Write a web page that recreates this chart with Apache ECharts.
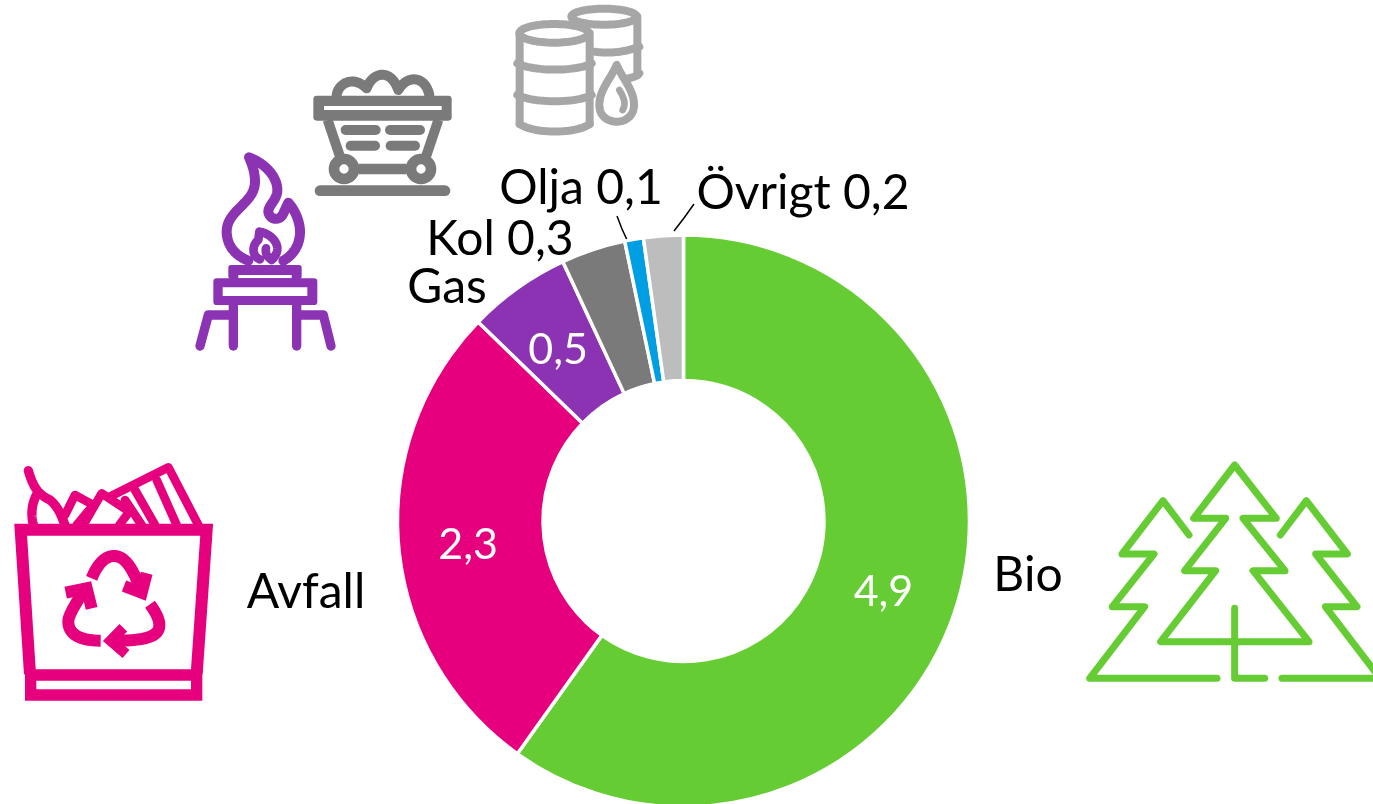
<!DOCTYPE html>
<html>
<head>
<meta charset="utf-8">
<style>html,body{margin:0;padding:0;background:#fff;overflow:hidden}#c{width:1373px;height:804px}</style>
<script src="https://cdn.jsdelivr.net/npm/echarts@6/dist/echarts.min.js"></script>
</head>
<body>
<div id="c"></div>
<script>
const names = ['Bio','Avfall','Gas','Kol','Olja','Övrigt'];
const values = [4.94,2.26,0.48,0.30,0.087,0.185];
const colors = ['#66CC33','#E6007E','#8B33B3','#7A7A7A','#009FE3','#BDBDBD'];
const valueInside = [true,true,true,false,false,false];
const hasLeader = [false,false,false,false,true,true];
const FONT = 'Lato';
const CENTER = [683.5,521];
const outerAnchors = [[1028,576],[306,593],[447,288],[500,240],[581,189],[803,194]];
const leaderPoints = [null,null,null,null,[[617,216],[622,229],[628,242]],[[694,204],[684,218],[674,231]]];
const insideOffset = [[-6,5],[0,5],[0,5],[0,0],[0,0],[0,0]];
const fmt = v => v.toFixed(1).replace('.',',');

function flatten(d){
  const toks = d.match(/[MLCZ]|-?[\d.]+/g); let i=0, pts=[], closed=false, cmd='';
  while(i<toks.length){
    if(/[MLCZ]/.test(toks[i])) cmd=toks[i++];
    if(cmd==='Z'){closed=true;continue;}
    if(cmd==='C'){
      const p0=pts[pts.length-1], c=[0,1,2,3,4,5].map(k=>+toks[i+k]); i+=6;
      for(let s=1;s<=24;s++){const t=s/24,u=1-t;
        pts.push([u*u*u*p0[0]+3*u*u*t*c[0]+3*u*t*t*c[2]+t*t*t*c[4],
                  u*u*u*p0[1]+3*u*u*t*c[1]+3*u*t*t*c[3]+t*t*t*c[5]]);}
    } else { pts.push([+toks[i],+toks[i+1]]); i+=2; }
  }
  return {pts,closed};
}
function icon(color, ox, oy, items){
  return { type:'group', x:ox, y:oy, scaleX:1/3, scaleY:1/3, silent:true,
    children: items.map(it=>{
      if(it.rect) return {type:'rect',shape:{x:it.rect[0],y:it.rect[1],width:it.rect[2],height:it.rect[3],r:it.r||0},style:{fill:it.fill||color}};
      if(it.ring) return {type:'circle',shape:{cx:it.ring[0],cy:it.ring[1],r:it.ring[2]},style:{fill:'none',stroke:color,lineWidth:it.w}};
      if(it.ell){ const pts=[]; for(let k=0;k<72;k++){const a=k/72*2*Math.PI;pts.push([it.ell[0]+it.ell[2]*Math.cos(a),it.ell[1]+it.ell[3]*Math.sin(a)]);}
        return {type:'polygon',shape:{points:pts},style:{fill:'none',stroke:color,lineWidth:it.w,lineJoin:'round'}}; }
      const f=flatten(it.d);
      return {type:f.closed?'polygon':'polyline',shape:{points:f.pts},style:{fill:'none',stroke:color,lineWidth:it.w,lineCap:it.cap||'round',lineJoin:it.join||'round'}};
    })};
}
const treeIcon = icon('#66CC33',1073,450,[
  {w:21,d:'M485,45 L362,205 L458,205 L335,362 L428,362 L263,575 L708,575 L540,362 L636,362 L510,205 L610,205 Z'},
  {w:21,d:'M485,475 L485,685 L575,685'},
  {w:21,d:'M432,685 L50,685 L215,470 L118,470 L243,312 L147,312 L270,152 L348,255'},
  {w:21,d:'M622,255 L700,152 L823,312 L728,312 L852,470 L757,470 L925,690'},
  {w:21,d:'M627,685 L930,685'}
]);
const binIcon = icon('#E6007E',0,450,[
  {w:36,cap:'butt',join:'miter',d:'M90,672 L62,239 L620,239 L590,672'},
  {w:34,join:'miter',cap:'butt',d:'M92,675 L590,675 L590,735 L92,735 Z'},
  {w:36,cap:'butt',d:'M275,385 C295,335 320,318 342,318 C370,318 395,345 420,415'},
  {w:36,cap:'butt',join:'miter',d:'M440,370 L425,428 L372,408'},
  {w:36,cap:'butt',d:'M250,425 C215,480 205,500 205,515 C205,550 235,572 302,572'},
  {w:36,cap:'butt',join:'miter',d:'M197,428 L260,415 L275,475'},
  {w:36,cap:'butt',d:'M450,463 C470,490 478,510 478,525 C478,555 450,572 345,572'},
  {w:32,cap:'butt',join:'miter',d:'M370,533 L332,572 L378,612'},
  {w:28,d:'M85,62 C100,110 110,130 150,150 C175,170 185,200 195,225'},
  {w:28,d:'M100,225 C92,190 95,160 112,130'},
  {w:26,d:'M195,195 L225,135 L280,165 L230,225'},
  {w:26,d:'M250,225 L305,130 L388,185 L358,225'},
  {w:26,d:'M330,140 L505,52 L595,225'},
  {w:26,d:'M375,150 L425,225'},
  {w:26,d:'M405,120 L465,225'},
  {w:26,d:'M470,90 L530,225'}
]);
const burnerIcon = icon('#8B33B3',180,0,[
  {w:30,d:'M205,782 C160,765 140,730 140,695 C140,630 225,610 225,545 C225,515 215,490 207,472 C255,490 292,530 292,570 C292,600 265,615 265,635 C268,660 300,665 310,640 L325,608 C345,630 360,665 360,695 C360,735 340,765 310,782'},
  {w:26,d:'M240,778 C215,770 215,735 235,720 L238,695 C270,700 292,725 292,745 C292,760 285,770 275,780 C262,770 255,760 258,745'},
  {rect:[145,795,220,42],r:8},
  {rect:[175,825,160,10],fill:'#fff'},
  {rect:[100,835,312,80],r:10},
  {rect:[128,862,254,26],fill:'#fff'},
  {w:28,d:'M160,915 L160,1038'},
  {w:28,d:'M350,915 L350,1038'},
  {w:28,d:'M160,945 L85,945 L60,1038'},
  {w:28,d:'M350,945 L430,945 L453,1038'}
]);
const cartIcon = icon('#7A7A7A',180,0,[
  {w:30,d:'M470,285 C475,250 520,225 560,265 C575,220 630,200 655,270 C680,225 735,225 748,285'},
  {rect:[400,287,415,75],r:10},
  {rect:[432,318,353,12],fill:'#fff'},
  {w:30,cap:'butt',d:'M443,360 L480,470'},
  {w:30,cap:'butt',d:'M775,360 L738,470'},
  {w:30,d:'M497,390 L587,390'},
  {w:30,d:'M630,390 L720,390'},
  {w:30,d:'M512,437 L585,437'},
  {w:30,d:'M632,437 L705,437'},
  {w:32,ring:[492,507,30]},
  {w:32,ring:[723,507,30]},
  {w:32,cap:'butt',d:'M535,507 L680,507'},
  {w:32,d:'M420,572 L795,572'}
]);
const oilIcon = icon('#A6A6A6',180,0,[
  {w:24,ell:[1272,50,98,24]},
  {w:24,d:'M1372,50 L1372,225'},
  {w:24,d:'M1245,155 C1290,162 1340,155 1378,140'},
  {w:24,d:'M1345,235 C1360,232 1372,228 1378,220'},
  {w:24,ell:[1122,100,104,28]},
  {w:24,d:'M1019,100 L1019,372'},
  {w:24,d:'M1229,100 L1229,372'},
  {w:24,d:'M1019,372 C1060,402 1190,402 1229,372'},
  {w:24,d:'M1012,190 C1060,215 1190,215 1235,190'},
  {w:24,d:'M1012,285 C1060,310 1190,310 1235,285'},
  {w:24,d:'M1310,195 C1290,240 1258,270 1258,315 C1258,350 1285,365 1310,365 C1340,365 1362,345 1362,315 C1362,270 1330,240 1310,195 Z'},
  {w:20,d:'M1318,270 C1330,290 1340,310 1328,330'}
]);

const chart = echarts.init(document.getElementById('c'),null,{renderer:'canvas'});
chart.setOption({
  animation:false,
  backgroundColor:'#fff',
  graphic:[treeIcon,binIcon,burnerIcon,cartIcon,oilIcon],
  series:[
    {
      type:'pie', center:CENTER, radius:[140.5,286], startAngle:90, clockwise:true,
      avoidLabelOverlap:false, silent:true,
      itemStyle:{borderColor:'#fff',borderWidth:3.5},
      data:names.map((n,i)=>({name:n,value:values[i],itemStyle:{color:colors[i]},
        label:{show:valueInside[i]}})),
      label:{position:'inside',color:'#fff',fontFamily:FONT,fontSize:43,
        formatter:p=>fmt(p.value)},
      labelLine:{show:false},
      labelLayout:p=>({dx:insideOffset[p.dataIndex][0],dy:insideOffset[p.dataIndex][1]})
    },
    {
      type:'pie', center:CENTER, radius:[140.5,286], startAngle:90, clockwise:true,
      avoidLabelOverlap:false, silent:true,
      itemStyle:{color:'rgba(0,0,0,0)',borderWidth:0},
      data:names.map((n,i)=>({name:n,value:values[i],
        labelLine:{show:hasLeader[i],lineStyle:{color:'#000',width:1.5}}})),
      label:{position:'outside',color:'#000',fontFamily:FONT,fontSize:48,
        formatter:p=>valueInside[p.dataIndex]?p.name:p.name+' '+fmt(p.value)},
      labelLayout:p=>{
        const i=p.dataIndex, a=outerAnchors[i];
        const o={x:a[0],y:a[1],align:'center',verticalAlign:'middle'};
        if(leaderPoints[i]) o.labelLinePoints=leaderPoints[i];
        return o;
      }
    }
  ]
});
</script>
</body>
</html>
